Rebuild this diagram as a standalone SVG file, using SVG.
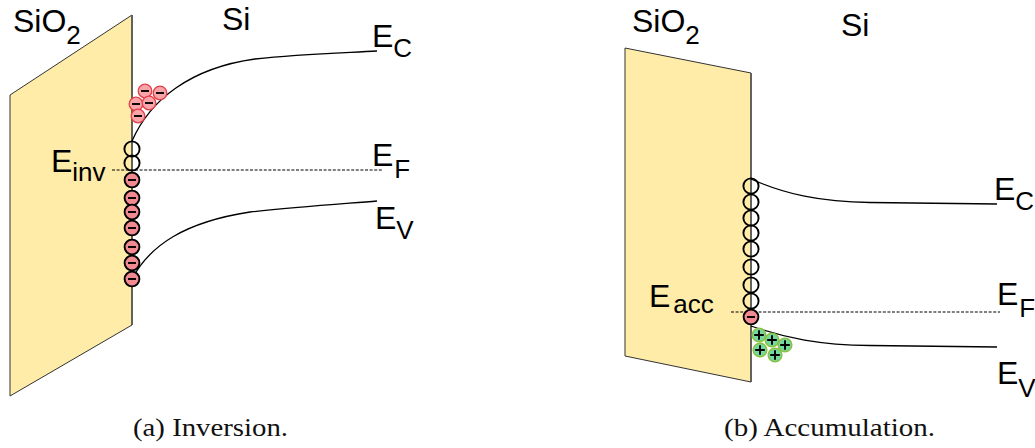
<svg xmlns="http://www.w3.org/2000/svg" width="1035" height="448" viewBox="0 0 1035 448">
<style>
.ox{fill:#feeca8;stroke:#333;stroke-width:1}
.edge{fill:none;stroke:#555;stroke-width:1.6}
.band{fill:none;stroke:#000;stroke-width:1.3}
.fermi{fill:none;stroke:#000;stroke-width:1.2;stroke-dasharray:3 1.6}
.t{font-family:"Liberation Sans",Arial,sans-serif;font-size:32px;fill:#000}
.s{font-size:26px}
.cap{font-family:"Liberation Serif","Times New Roman",serif;font-size:25px;fill:#111}
.hole{fill:none;stroke:#000;stroke-width:1.9}
.el{fill:#f28a92;stroke:#000;stroke-width:1.9}
.bar{stroke:#000;stroke-width:1.9;fill:none}
.sel{fill:#f7a5a8;stroke:#e2404c;stroke-width:1.3}
.sh{fill:#74d8a0;stroke:#8cc040;stroke-width:1.5}
</style>
<defs>
<g id="hole"><circle r="7.6" class="hole"/></g>
<g id="elec"><circle r="7.4" class="el"/><path class="bar" d="M-4 0H4"/></g>
<g id="selec"><circle r="6.8" class="sel"/><path class="bar" d="M-4 0H4"/></g>
<g id="shole"><circle r="6.8" class="sh"/><path class="bar" d="M-4.8 0H4.8M0-4.8V4.8"/></g>
</defs>
<g id="panel-a-oxide">
<path class="ox" d="M10 95L132 15V325L10 396Z"/>
<path class="edge" d="M132 15V325"/>
</g>
<g id="panel-b-oxide">
<path class="ox" d="M625 48L751 73V382L625 356Z"/>
<path class="edge" d="M751 73V382"/>
</g>
<g id="connectors">
<path class="band" d="M132 141C150 100 190 68 255 59C300 54 340 53 377 51"/>
<path class="band" d="M132 279C150 245 185 222 250 212C295 207 340 204 377 201"/>
<path class="fermi" d="M112 170H382"/>
<path class="band" d="M751 179C785 194 820 202 870 202.5L997 204"/>
<path class="fermi" d="M731 312H1000"/>
<path class="band" d="M751 326C785 338 820 345 870 345.5L997 347"/>
</g>
<g id="panel-a-carriers">
<use href="#selec" x="145" y="91"/><use href="#selec" x="160" y="93"/><use href="#selec" x="136" y="104"/><use href="#selec" x="149" y="103"/><use href="#selec" x="138" y="116"/>
<use href="#hole" x="132" y="149"/><use href="#hole" x="132" y="163"/>
<use href="#elec" x="132" y="180"/><use href="#elec" x="132" y="198"/><use href="#elec" x="132" y="212"/><use href="#elec" x="132" y="228"/><use href="#elec" x="132" y="247"/><use href="#elec" x="132" y="263"/><use href="#elec" x="132" y="279"/>
</g>
<g id="panel-b-carriers">
<use href="#hole" x="751" y="186"/><use href="#hole" x="751" y="202"/><use href="#hole" x="751" y="218"/><use href="#hole" x="751" y="233"/><use href="#hole" x="751" y="249"/><use href="#hole" x="751" y="267"/><use href="#hole" x="751" y="285"/><use href="#hole" x="751" y="301"/>
<use href="#elec" x="751" y="317"/>
<use href="#shole" x="759" y="335"/><use href="#shole" x="772" y="340"/><use href="#shole" x="785" y="345"/><use href="#shole" x="760" y="350"/><use href="#shole" x="775" y="355"/>
</g>
<g id="labels">
<text class="t" x="13" y="32">SiO<tspan class="s" dy="12">2</tspan></text>
<text class="t" x="222" y="30">Si</text>
<text class="t" x="372" y="47">E<tspan class="s" dy="10">C</tspan></text>
<text class="t" x="372" y="166">E<tspan class="s" dx="1" dy="12">F</tspan></text>
<text class="t" x="375" y="229">E<tspan class="s" dy="10">V</tspan></text>
<text class="t" x="51" y="172">E<tspan class="s" dy="9">inv</tspan></text>
<text class="t" x="632" y="32">SiO<tspan class="s" dy="12">2</tspan></text>
<text class="t" x="841" y="36">Si</text>
<text class="t" x="994" y="200">E<tspan class="s" dy="10">C</tspan></text>
<text class="t" x="997" y="305">E<tspan class="s" dx="1" dy="12">F</tspan></text>
<text class="t" x="997" y="384">E<tspan class="s" dy="13">V</tspan></text>
<text class="t" x="649" y="307">E<tspan class="s" dx="3" dy="6">acc</tspan></text>
<text class="cap" x="133" y="436" textLength="155" lengthAdjust="spacingAndGlyphs">(a) Inversion.</text>
<text class="cap" x="724" y="436" textLength="211" lengthAdjust="spacingAndGlyphs">(b) Accumulation.</text>
</g>
</svg>
